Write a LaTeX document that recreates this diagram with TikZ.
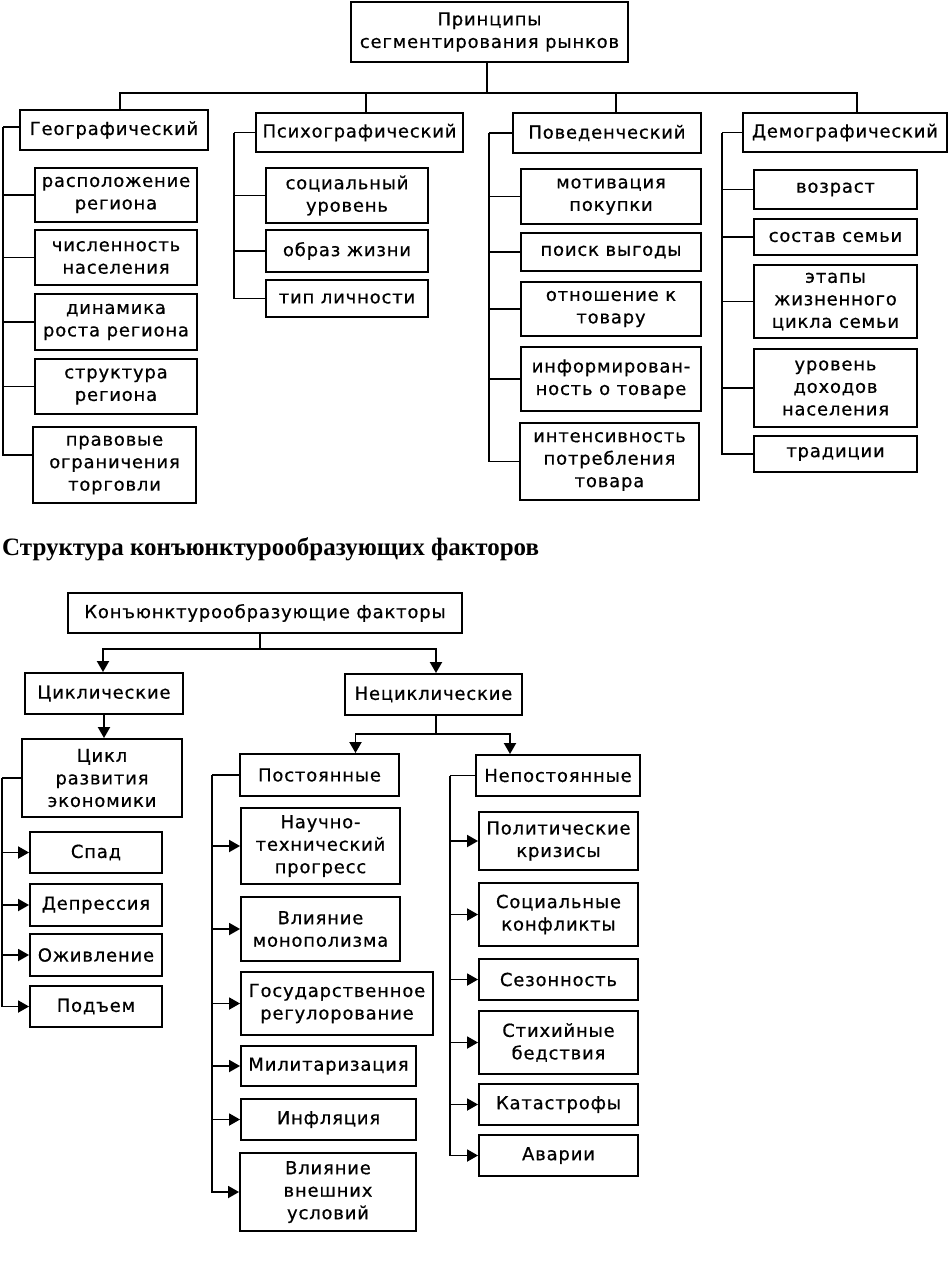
\documentclass[tikz,border=0pt]{standalone}
\usepackage{fontspec}
\setmainfont{Liberation Serif}
\newfontfamily\boxfont{DejaVu Sans}[LetterSpace=4.5, FakeBold=0.6]
\usetikzlibrary{arrows.meta}

\tikzset{
  box/.style={draw, line width=1.9pt, align=center, inner sep=1pt,
    font=\boxfont\fontsize{18pt}{22.5pt}\selectfont},
  link/.style={line width=1.9pt},
  arr/.style={line width=1.9pt, -{Triangle[length=11pt,width=12pt]}}
}

\begin{document}
\begin{tikzpicture}[x=1pt,y=-1pt]
\useasboundingbox (0,0) rectangle (948,1262);

% principles of market segmentation
\node[box, minimum width=277pt, minimum height=60pt] (root) at (489.5,32) {Принципы\\сегментирования рынков};
\node[box, minimum width=188pt, minimum height=40pt] (geo) at (114,130) {Географический};
\node[box, minimum width=207pt, minimum height=39pt] (psy) at (359.5,132.5) {Психографический};
\node[box, minimum width=188pt, minimum height=40pt] (beh) at (607,133) {Поведенческий};
\node[box, minimum width=204pt, minimum height=39pt] (dem) at (845,132.5) {Демографический};

\node[box, minimum width=162pt, minimum height=54pt] (g1) at (116,195) {расположение\\региона};
\node[box, minimum width=162pt, minimum height=55pt] (g2) at (116,257.5) {численность\\населения};
\node[box, minimum width=162pt, minimum height=56pt] (g3) at (116,322) {динамика\\роста региона};
\node[box, minimum width=162pt, minimum height=55pt] (g4) at (116,386.5) {структура\\региона};
\node[box, minimum width=163pt, minimum height=76pt] (g5) at (114.5,465) {правовые\\ограничения\\торговли};

\node[box, minimum width=162pt, minimum height=55pt] (p1) at (347,195.5) {социальный\\уровень};
\node[box, minimum width=162pt, minimum height=42pt] (p2) at (347,251) {образ жизни};
\node[box, minimum width=162pt, minimum height=37pt] (p3) at (347,298.5) {тип личности};

\node[box, minimum width=180pt, minimum height=55pt] (b1) at (611,196.5) {мотивация\\покупки};
\node[box, minimum width=180pt, minimum height=38pt] (b2) at (611,252) {поиск выгоды};
\node[box, minimum width=180pt, minimum height=54pt] (b3) at (611,309) {отношение к\\товару};
\node[box, minimum width=180pt, minimum height=64pt] (b4) at (611,379) {информирован-\\ность о товаре};
\node[box, minimum width=179pt, minimum height=77pt] (b5) at (609.5,461.5) {интенсивность\\потребления\\товара};

\node[box, minimum width=163pt, minimum height=39pt] (d1) at (835.5,189.5) {возраст};
\node[box, minimum width=163pt, minimum height=36pt] (d2) at (835.5,237) {состав семьи};
\node[box, minimum width=163pt, minimum height=73pt] (d3) at (835.5,301.5) {этапы\\жизненного\\цикла семьи};
\node[box, minimum width=163pt, minimum height=78pt] (d4) at (835.5,388) {уровень\\доходов\\населения};
\node[box, minimum width=163pt, minimum height=36pt] (d5) at (835.5,454) {традиции};

\draw[link] ([xshift=-2.5pt]root.south) -- ++(0,30) coordinate (bus);
\foreach \n/\s in {geo/6, psy/6.5, beh/9, dem/12}
  \draw[link] (bus) -| ([xshift=\s pt]\n.north);

\draw[link] ([yshift=3pt]geo.west) -- ++(-16,0) coordinate (gs);
\foreach \n in {g1,g2,g3,g4}
  \draw[link] (gs) |- (\n.west);
\draw[link] (gs) |- ([yshift=10pt]g5.west);

\draw[link] (psy.west) -- ++(-21,0) coordinate (ps);
\foreach \n in {p1,p2,p3}
  \draw[link] (ps) |- (\n.west);

\draw[link] (beh.west) -- ++(-23,0) coordinate (bs);
\foreach \n in {b1,b2,b3,b4,b5}
  \draw[link] (bs) |- (\n.west);

\draw[link] (dem.west) -- ++(-20,0) coordinate (ds);
\foreach \n in {d1,d2,d3,d4,d5}
  \draw[link] (ds) |- (\n.west);

% structure of the factors
\node[anchor=base west, inner sep=0pt, font=\bfseries\fontsize{25pt}{29pt}\selectfont] (title) at (2,555) {Структура конъюнктурообразующих факторов};

\node[box, minimum width=394pt, minimum height=40pt] (kf) at (265,613) {Конъюнктурообразующие факторы};
\node[box, minimum width=158pt, minimum height=41pt] (cyc) at (104,693.5) {Циклические};
\node[box, minimum width=177pt, minimum height=41pt] (ncy) at (433.5,694.5) {Нециклические};
\node[box, minimum width=160pt, minimum height=78pt] (ce) at (102,778) {Цикл\\развития\\экономики};
\node[box, minimum width=159pt, minimum height=42pt] (pst) at (319.5,775) {Постоянные};
\node[box, minimum width=164pt, minimum height=41pt] (npst) at (558,775.5) {Непостоянные};

\node[box, minimum width=132pt, minimum height=41pt] (s1) at (96,852.5) {Спад};
\node[box, minimum width=132pt, minimum height=42pt] (s2) at (96,905) {Депрессия};
\node[box, minimum width=132pt, minimum height=42pt] (s3) at (96,955) {Оживление};
\node[box, minimum width=132pt, minimum height=41pt] (s4) at (96,1006.5) {Подъем};

\node[box, minimum width=159pt, minimum height=76pt] (k1) at (320.5,846) {Научно-\\технический\\прогресс};
\node[box, minimum width=159pt, minimum height=64pt] (k2) at (320.5,929) {Влияние\\монополизма};
\node[box, minimum width=192pt, minimum height=63pt] (k3) at (337,1003.5) {Государственное\\регулорование};
\node[box, minimum width=175pt, minimum height=40pt] (k4) at (328.5,1066) {Милитаризация};
\node[box, minimum width=175pt, minimum height=41pt] (k5) at (328.5,1119.5) {Инфляция};
\node[box, minimum width=176pt, minimum height=78pt] (k6) at (328,1192) {Влияние\\внешних\\условий};

\node[box, minimum width=159pt, minimum height=58pt] (n1) at (558.5,841) {Политические\\кризисы};
\node[box, minimum width=159pt, minimum height=63pt] (n2) at (558.5,914.5) {Социальные\\конфликты};
\node[box, minimum width=159pt, minimum height=41pt] (n3) at (558.5,979.5) {Сезонность};
\node[box, minimum width=159pt, minimum height=63pt] (n4) at (558.5,1042.5) {Стихийные\\бедствия};
\node[box, minimum width=159pt, minimum height=41pt] (n5) at (558.5,1104.5) {Катастрофы};
\node[box, minimum width=159pt, minimum height=41pt] (n6) at (558.5,1155.5) {Аварии};

\draw[link] ([xshift=-5pt]kf.south) -- ++(0,15) coordinate (kb);
\draw[arr] (kb) -| ([xshift=-1pt]cyc.north);
\draw[arr] (kb) -| ([xshift=2.5pt]ncy.north);
\draw[arr] (cyc) -- (cyc |- ce.north);

\draw[link] ([xshift=2.5pt]ncy.south) -- ++(0,18) coordinate (nb);
\draw[arr] (nb) -| ([xshift=36pt]pst.north);
\draw[arr] (nb) -| ([xshift=-48pt]npst.north);

\draw[link] (ce.west) -- ++(-19,0) coordinate (cs);
\foreach \n in {s1,s2,s3,s4}
  \draw[arr] (cs) |- (\n.west);

\draw[link] (pst.west) -- ++(-27,0) coordinate (ks);
\foreach \n in {k1,k2,k3,k4,k5,k6}
  \draw[arr] (ks) |- (\n.west);

\draw[link] (npst.west) -- ++(-25,0) coordinate (ns);
\foreach \n in {n1,n2,n3,n4,n5,n6}
  \draw[arr] (ns) |- (\n.west);
\end{tikzpicture}
\end{document}
